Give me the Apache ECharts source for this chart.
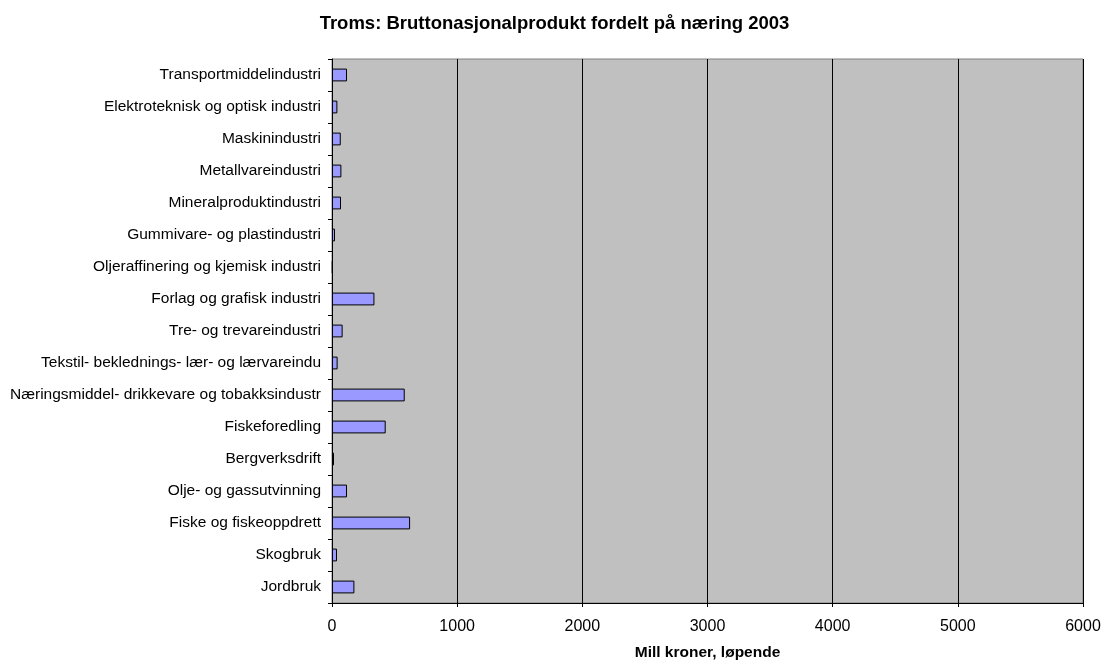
<!DOCTYPE html>
<html>
<head>
<meta charset="utf-8">
<script src="https://cdn.jsdelivr.net/npm/echarts@6/dist/echarts.min.js"></script>
<style>
  html, body { margin: 0; padding: 0; background: #fff; }
  #chart { width: 1109px; height: 666px; }
</style>
</head>
<body>
<div id="chart"></div>
<script>
// kategorier, nederst først (ECharts tegner kategoriaksen nedenfra)
var naeringer = [
  "Jordbruk",
  "Skogbruk",
  "Fiske og fiskeoppdrett",
  "Olje- og gassutvinning",
  "Bergverksdrift",
  "Fiskeforedling",
  "Næringsmiddel- drikkevare og tobakksindustr",
  "Tekstil- beklednings- lær- og lærvareindu",
  "Tre- og trevareindustri",
  "Forlag og grafisk industri",
  "Oljeraffinering og kjemisk industri",
  "Gummivare- og plastindustri",
  "Mineralproduktindustri",
  "Metallvareindustri",
  "Maskinindustri",
  "Elektroteknisk og optisk industri",
  "Transportmiddelindustri"
];
var bnp2003 = [179, 40, 624, 120, 16, 429, 581, 45, 85, 339, 5, 24, 72, 75, 70, 43, 120];
var xMin = 0, xMax = 6000, xStep = 1000;

var myChart = echarts.init(document.getElementById("chart"));
myChart.setOption({
  animation: false,
  title: {
    text: "Troms: Bruttonasjonalprodukt fordelt på næring 2003",
    left: "center",
    top: 9,
    textStyle: { fontFamily: "Liberation Sans", fontSize: 18.5, fontWeight: "bold", color: "#000" }
  },
  grid: {
    left: 332,
    right: 26,
    top: 59,
    bottom: 59,
    show: true,
    backgroundColor: "#C0C0C0",
    borderColor: "#808080",
    borderWidth: 1
  },
  xAxis: {
    type: "value",
    min: xMin,
    max: xMax,
    interval: xStep,
    name: "Mill kroner, løpende",
    nameLocation: "middle",
    nameGap: 42,
    nameTextStyle: { fontFamily: "Liberation Sans", fontSize: 15.5, fontWeight: "bold", color: "#000" },
    axisLine: { show: true, lineStyle: { color: "#000", width: 1 } },
    axisTick: { show: true, length: 4, lineStyle: { color: "#000" } },
    axisLabel: {
      margin: 16,
      fontFamily: "Liberation Sans",
      fontSize: 16,
      color: "#000",
      formatter: function (v) { return String(v); }
    },
    splitLine: { show: true, lineStyle: { color: "#000", width: 1 } }
  },
  yAxis: {
    type: "category",
    data: naeringer,
    axisLine: { show: true, lineStyle: { color: "#000", width: 1 } },
    axisTick: { show: true, length: 4, lineStyle: { color: "#000" } },
    axisLabel: { margin: 11, fontFamily: "Liberation Sans", fontSize: 15.5, color: "#000" },
    splitLine: { show: false }
  },
  series: [
    {
      type: "bar",
      data: bnp2003,
      barCategoryGap: "60%",
      itemStyle: { color: "#9999FF", borderColor: "#000", borderWidth: 1 }
    }
  ]
});
</script>
</body>
</html>
